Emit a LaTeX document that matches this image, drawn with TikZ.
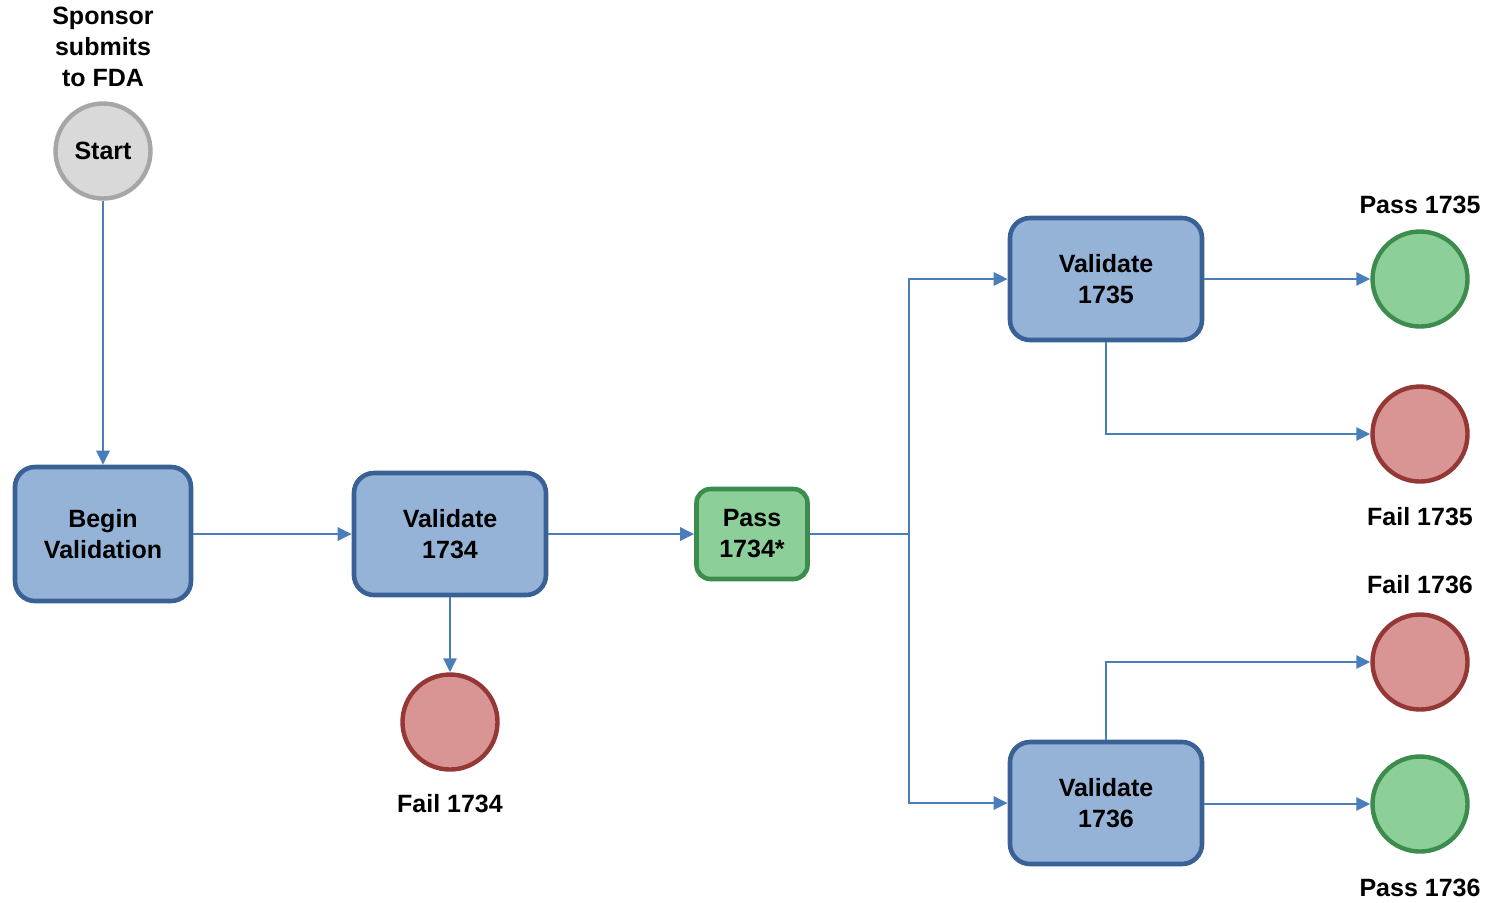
\documentclass[tikz,border=0pt]{standalone}
\usepackage{fontspec}
\setmainfont{Liberation Sans}
\usetikzlibrary{arrows.meta}
\definecolor{boxfill}{HTML}{95B3D7}
\definecolor{boxdraw}{HTML}{3A6195}
\definecolor{grnfill}{HTML}{8CCF99}
\definecolor{grndraw}{HTML}{3C8C4E}
\definecolor{redfill}{HTML}{D99594}
\definecolor{reddraw}{HTML}{953735}
\definecolor{grayfill}{HTML}{D9D9D9}
\definecolor{graydraw}{HTML}{A6A6A6}
\definecolor{conn}{HTML}{4A7EBB}
\tikzset{
  txt/.style={font=\bfseries\fontsize{12.5}{15.5}\selectfont, align=center},
  bluebox/.style={txt, draw=boxdraw, fill=boxfill, line width=2.3pt, rounded corners=10pt, inner sep=0pt},
  greenbox/.style={txt, draw=grndraw, fill=grnfill, line width=2.3pt, rounded corners=7pt, inner sep=0pt, minimum width=55.5pt, minimum height=45pt},
  endcirc/.style={circle, line width=2.2pt, minimum size=47.5pt, inner sep=0pt},
  passc/.style={endcirc, draw=grndraw, fill=grnfill},
  failc/.style={endcirc, draw=reddraw, fill=redfill},
  startc/.style={txt, endcirc, draw=graydraw, fill=grayfill},
  lab/.style={txt, inner sep=0pt},
  link/.style={draw=conn, line width=1.4pt},
  arr/.style={link, -{Triangle[length=7pt, width=6.5pt]}}
}
\begin{document}
\begin{tikzpicture}[x=0.5pt,y=-0.5pt]
\useasboundingbox (0,0) rectangle (1486,902);
\node[lab] (sponsor) at (103,47) {Sponsor\\submits\\to FDA};
\node[startc] (start) at (103,151) {\raisebox{-1pt}{Start}};
\node[bluebox, minimum width=88pt, minimum height=67pt] (begin) at (103,534) {Begin\\Validation};
\node[bluebox, minimum width=96pt, minimum height=61pt] (v1734) at (450,534) {Validate\\1734};
\node[greenbox] (p1734) at (752,534) {Pass\\1734*};
\node[failc] (f1734) at (450,722) {};
\node[lab] (lf1734) at (450,804) {Fail 1734};
\node[bluebox, minimum width=96pt, minimum height=61pt] (v1735) at (1106,279) {Validate\\1735};
\node[bluebox, minimum width=96pt, minimum height=61pt] (v1736) at (1106,803) {Validate\\1736};
\node[passc] (p1735) at (1420,279) {};
\node[lab] (lp1735) at (1420,205) {Pass 1735};
\node[failc] (f1735) at (1420,434) {};
\node[lab] (lf1735) at (1420,517) {Fail 1735};
\node[failc] (f1736) at (1420,662) {};
\node[lab] (lf1736) at (1420,585) {Fail 1736};
\node[passc] (p1736) at (1420,804) {};
\node[lab] (lp1736) at (1420,888) {Pass 1736};
\coordinate (j) at (909,534);
\draw[arr] (start) -- (begin);
\draw[arr] (begin) -- (v1734);
\draw[arr] (v1734) -- (p1734);
\draw[arr] (v1734) -- (f1734);
\draw[link] (p1734) -- (j);
\draw[arr] (j) |- (v1735.west);
\draw[arr] (j) |- (v1736.west);
\draw[arr] (v1735.east) -- (p1735.west);
\draw[arr] (v1735.south) |- (f1735.west);
\draw[arr] (v1736.north) |- (f1736.west);
\draw[arr] (v1736.east |- p1736) -- (p1736.west);
\end{tikzpicture}
\end{document}
